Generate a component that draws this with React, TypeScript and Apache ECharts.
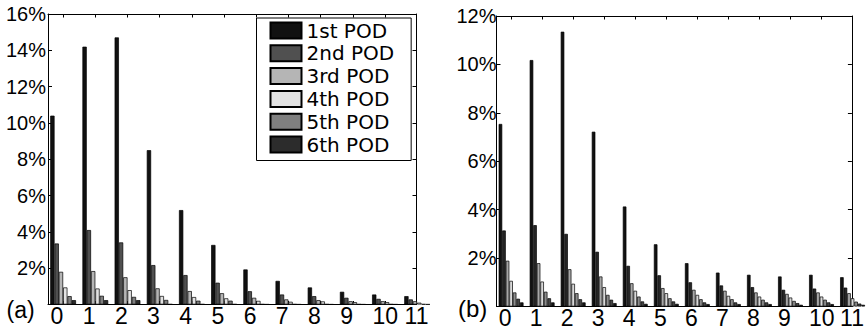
import React, { useEffect, useRef } from 'react';
import * as echarts from 'echarts';

// ---- data ----
const categories = [0, 1, 2, 3, 4, 5, 6, 7, 8, 9, 10, 11];
const podNames = ['1st POD', '2nd POD', '3rd POD', '4th POD', '5th POD', '6th POD'];
const podNamesB = ['1st POD', '2nd POD', '3rd POD', '4th POD', '5th POD', '6th POD', '7th POD'];

// panel (a) values, percent
const a1st = [10.4, 14.2, 14.71, 8.5, 5.2, 3.28, 1.93, 1.3, 0.94, 0.7, 0.55, 0.46];
const a2nd = [3.36, 4.1, 3.42, 2.17, 1.62, 1.2, 0.73, 0.55, 0.46, 0.37, 0.31, 0.28];
const a3rd = [1.8, 1.84, 1.5, 0.89, 0.74, 0.62, 0.37, 0.28, 0.24, 0.18, 0.18, 0.18];
const a4th = [0.94, 0.88, 0.79, 0.47, 0.41, 0.34, 0.2, 0.15, 0.17, 0.13, 0.13, 0.1];
const a5th = [0.46, 0.48, 0.42, 0.25, 0.21, 0.21, 0.02, 0.02, 0.02, 0.02, 0.02, 0.02];
const a6th = [0.24, 0.24, 0.24, 0.02, 0.02, 0.02, 0.01, 0.01, 0.01, 0.01, 0.01, 0.01];

// panel (b) values, percent
const b1st = [7.54, 10.18, 11.35, 7.22, 4.13, 2.57, 1.79, 1.4, 1.31, 1.24, 1.31, 1.21];
const b2nd = [3.14, 3.36, 3.0, 2.26, 1.68, 1.29, 1.0, 0.87, 0.8, 0.69, 0.74, 0.78];
const b3rd = [1.89, 1.79, 1.54, 1.24, 0.96, 0.76, 0.69, 0.65, 0.58, 0.52, 0.58, 0.55];
const b4th = [1.06, 1.03, 0.94, 0.8, 0.65, 0.55, 0.48, 0.44, 0.41, 0.37, 0.41, 0.34];
const b5th = [0.58, 0.61, 0.55, 0.48, 0.41, 0.34, 0.3, 0.3, 0.28, 0.23, 0.28, 0.2];
const b6th = [0.32, 0.34, 0.3, 0.28, 0.21, 0.21, 0.17, 0.17, 0.17, 0.14, 0.17, 0.12];
const b7th = [0.17, 0.17, 0.17, 0.14, 0.11, 0.11, 0.1, 0.1, 0.1, 0.07, 0.1, 0.07];

const seriesA = [a1st, a2nd, a3rd, a4th, a5th, a6th];
const seriesB = [b1st, b2nd, b3rd, b4th, b5th, b6th, b7th];

const yTicksA = { max: 16, step: 2 };
const yTicksB = { max: 12, step: 2 };
const panelLabels = ['(a)', '(b)'];

// ---- styles ----
const colorsA = ['#111111', '#505050', '#b5b5b5', '#e2e2e2', '#7f7f7f', '#2c2c2c'];
const colorsB = ['#111111', '#262626', '#a8a8a8', '#d9d9d9', '#8c8c8c', '#454545', '#141414'];
const X_MIN = -0.47;
const X_MAX = 10.98;
const FONT = 'Liberation Sans, Arial, sans-serif';

function isInt(v: number) {
  return Math.abs(v - Math.round(v)) < 1e-6;
}

function barAxis(gridIndex: number, position: 'top' | 'bottom') {
  return {
    type: 'value',
    gridIndex,
    position,
    min: X_MIN,
    max: X_MAX,
    minInterval: 1,
    maxInterval: 1,
    axisLine: { show: true, onZero: false, lineStyle: { color: '#000', width: 1 } },
    axisTick: { show: true, inside: true, length: 3.5, lineStyle: { color: '#000', width: 1 } },
    axisLabel: { show: false },
    splitLine: { show: false },
  };
}

function labelAxis(gridIndex: number, shift: number) {
  return {
    type: 'value',
    gridIndex,
    position: 'bottom',
    min: X_MIN + shift,
    max: X_MAX + shift,
    minInterval: 1,
    maxInterval: 1,
    axisLine: { show: false, onZero: false },
    axisTick: { show: false },
    splitLine: { show: false },
    axisLabel: {
      show: true,
      align: 'left',
      margin: 0,
      fontSize: 23,
      fontFamily: FONT,
      color: '#000',
      showMinLabel: true,
      showMaxLabel: true,
      formatter: (v: number) =>
        isInt(v) && categories.includes(Math.round(v)) ? String(Math.round(v)) : '',
    },
  };
}

function yAxis(gridIndex: number, max: number, step: number, position: 'left' | 'right', labels: boolean, padTop: number, margin: number) {
  return {
    type: 'value',
    gridIndex,
    position,
    min: 0,
    max,
    interval: step,
    axisLine: { show: true, onZero: false, lineStyle: { color: '#000', width: 1 } },
    axisTick: { show: true, inside: true, length: 4, lineStyle: { color: '#000', width: 1 } },
    splitLine: { show: false },
    axisLabel: labels
      ? {
          show: true,
          fontSize: 20,
          fontFamily: FONT,
          color: '#000',
          margin,
          padding: [padTop, 0, 0, 0],
          formatter: (v: number) => (v === 0 ? '' : `${v}%`),
        }
      : { show: false },
  };
}

export default function App() {
  const ref = useRef<HTMLDivElement>(null);

  useEffect(() => {
    if (!ref.current) return;
    const chart = echarts.init(ref.current, undefined, { renderer: 'svg' });

    const series: any[] = [];
    seriesA.forEach((vals, i) => {
      series.push({
        type: 'bar',
        name: podNames[i],
        xAxisIndex: 0,
        yAxisIndex: 0,
        data: categories.map((c, j) => [c, vals[j]]),
        barGap: '0%',
        barCategoryGap: '20%',
        clip: true,
        silent: true,
        itemStyle: { color: colorsA[i], borderColor: '#000', borderWidth: 0.7 },
      });
    });
    seriesB.forEach((vals, i) => {
      series.push({
        type: 'bar',
        name: podNamesB[i],
        xAxisIndex: 3,
        yAxisIndex: 2,
        data: categories.map((c, j) => [c, vals[j]]),
        barGap: '0%',
        barCategoryGap: '20%',
        clip: true,
        silent: true,
        itemStyle: { color: colorsB[i], borderColor: '#000', borderWidth: 0.7 },
      });
    });

    chart.setOption({
      animation: false,
      backgroundColor: '#fff',
      grid: [
        { left: 48, top: 14, width: 368.5, height: 290.5 },
        { left: 496.5, top: 16, width: 367.5, height: 290.5 },
      ],
      xAxis: [
        barAxis(0, 'bottom'),
        barAxis(0, 'top'),
        labelAxis(0, 0.39),
        barAxis(1, 'bottom'),
        barAxis(1, 'top'),
        labelAxis(1, 0.4),
      ],
      yAxis: [
        yAxis(0, yTicksA.max, yTicksA.step, 'left', true, 0, 2),
        yAxis(0, yTicksA.max, yTicksA.step, 'right', false, 0, 0),
        yAxis(1, yTicksB.max, yTicksB.step, 'left', true, 6, 0),
        yAxis(1, yTicksB.max, yTicksB.step, 'right', false, 0, 0),
      ],
      legend: {
        data: podNames,
        orient: 'vertical',
        left: 256.5,
        top: 18,
        itemWidth: 31,
        itemHeight: 16,
        itemGap: 2.8,
        itemTextGap: 9,
        icon: 'rect',
        padding: [2.5, 17, 6, 13],
        borderColor: '#000',
        borderWidth: 1,
        borderRadius: 0,
        backgroundColor: '#fff',
        selectedMode: false,
        textStyle: { fontFamily: 'DejaVu Sans, sans-serif', fontSize: 20, color: '#000' },
      },
      graphic: [
        {
          type: 'text',
          left: 6.5,
          top: 298,
          style: { text: panelLabels[0], fontSize: 23, fontFamily: FONT, fill: '#000' },
        },
        {
          type: 'text',
          left: 458,
          top: 296,
          style: { text: panelLabels[1], fontSize: 24, fontFamily: FONT, fill: '#000' },
        },
      ],
      series,
    });

    return () => chart.dispose();
  }, []);

  return (
    <div
      ref={ref}
      style={{ position: 'fixed', left: 0, top: 0, width: 867, height: 333, background: '#fff' }}
    />
  );
}
